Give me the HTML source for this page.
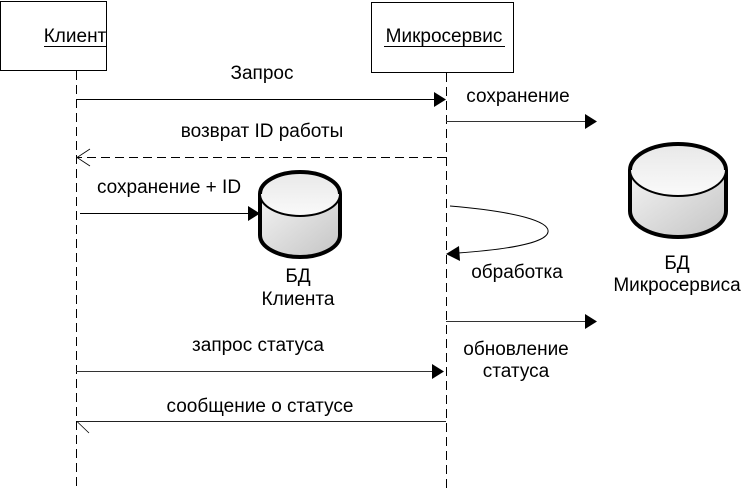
<!DOCTYPE html>
<html><head><meta charset="utf-8"><style>
html,body{margin:0;padding:0;background:#fff;}
svg{display:block;}
text{font-family:"Liberation Sans",Arial,sans-serif;font-size:19px;fill:#000;}
</style></head><body>
<svg width="744" height="490" viewBox="0 0 744 490" xmlns="http://www.w3.org/2000/svg">
<defs>
<linearGradient id="g" x1="0" y1="0" x2="1" y2="1">
<stop offset="0" stop-color="#f4f4f4"/><stop offset="1" stop-color="#c4c4c4"/>
</linearGradient>
<linearGradient id="gt" x1="0" y1="0" x2="0" y2="1">
<stop offset="0" stop-color="#e8e8e8"/><stop offset="1" stop-color="#fafafa"/>
</linearGradient>
</defs>
<rect x="0.5" y="1.5" width="106" height="69" fill="#fff" stroke="#000"/>
<text x="75" y="42" text-anchor="middle">Клиент</text>
<line x1="44" y1="46.5" x2="107" y2="46.5" stroke="#000"/>
<rect x="371.5" y="2.5" width="142" height="70" fill="#fff" stroke="#000"/>
<text x="444" y="42" text-anchor="middle">Микросервис</text>
<line x1="384" y1="46.5" x2="505" y2="46.5" stroke="#000"/>
<line x1="76.5" y1="71" x2="76.5" y2="488" stroke="#000" stroke-dasharray="9,5"/>
<line x1="446.5" y1="73" x2="446.5" y2="488" stroke="#000" stroke-dasharray="9,5"/>
<text x="262" y="79" text-anchor="middle">Запрос</text>
<line x1="76" y1="99.5" x2="435" y2="99.5" stroke="#000"/>
<polygon points="434,92 446,99.5 434,107" fill="#000"/>
<text x="518" y="102" text-anchor="middle">сохранение</text>
<line x1="446" y1="121.5" x2="586" y2="121.5" stroke="#333"/>
<polygon points="585,114 597,121.5 585,129" fill="#000"/>
<text x="262" y="137" text-anchor="middle">возврат ID работы</text>
<line x1="446" y1="157.5" x2="77" y2="157.5" stroke="#000" stroke-dasharray="9,5"/>
<polyline points="90,149 77,157.5 90,166" fill="none" stroke="#000" stroke-width="0.8"/>
<text x="169" y="193" text-anchor="middle">сохранение + ID</text>
<line x1="80" y1="213.5" x2="250" y2="213.5" stroke="#000"/>
<polygon points="248,206 260,213.5 248,221" fill="#000"/>
<path d="M260,194 L260,235 A40,22 0 0 0 340,235 L340,194" fill="url(#g)" stroke="#000" stroke-width="4"/>
<ellipse cx="300" cy="194" rx="40" ry="22" fill="url(#gt)" stroke="#000" stroke-width="2"/>
<path d="M260,194 A40,22 0 0 1 340,194" fill="none" stroke="#000" stroke-width="4"/>
<text x="298" y="282" text-anchor="middle">БД</text>
<text x="298" y="305" text-anchor="middle">Клиента</text>
<path d="M630,170 L630,211 A48,26 0 0 0 726,211 L726,170" fill="url(#g)" stroke="#000" stroke-width="4"/>
<ellipse cx="678" cy="170" rx="48" ry="26" fill="url(#gt)" stroke="#000" stroke-width="2"/>
<path d="M630,170 A48,26 0 0 1 726,170" fill="none" stroke="#000" stroke-width="4"/>
<text x="677" y="269" text-anchor="middle">БД</text>
<text x="677" y="291" text-anchor="middle">Микросервиса</text>
<path d="M450,206 C520,212 550,222 548,232 C546,244 500,250 458,253" fill="none" stroke="#000" stroke-width="1"/>
<polygon points="459,246 446,254 460,261" fill="#000"/>
<text x="517" y="278" text-anchor="middle">обработка</text>
<line x1="446" y1="321.5" x2="586" y2="321.5" stroke="#333"/>
<polygon points="585,314 597,321.5 585,329" fill="#000"/>
<text x="516" y="355" text-anchor="middle">обновление</text>
<text x="516" y="377" text-anchor="middle">статуса</text>
<text x="258" y="351" text-anchor="middle">запрос статуса</text>
<line x1="76" y1="371.5" x2="433" y2="371.5" stroke="#333"/>
<polygon points="432,364 444,371.5 432,379" fill="#000"/>
<text x="260" y="412" text-anchor="middle">сообщение  о статусе</text>
<line x1="446" y1="421.5" x2="77" y2="421.5" stroke="#222"/>
<line x1="77" y1="421.5" x2="89" y2="433" stroke="#000" stroke-width="0.8"/>
</svg>
</body></html>
